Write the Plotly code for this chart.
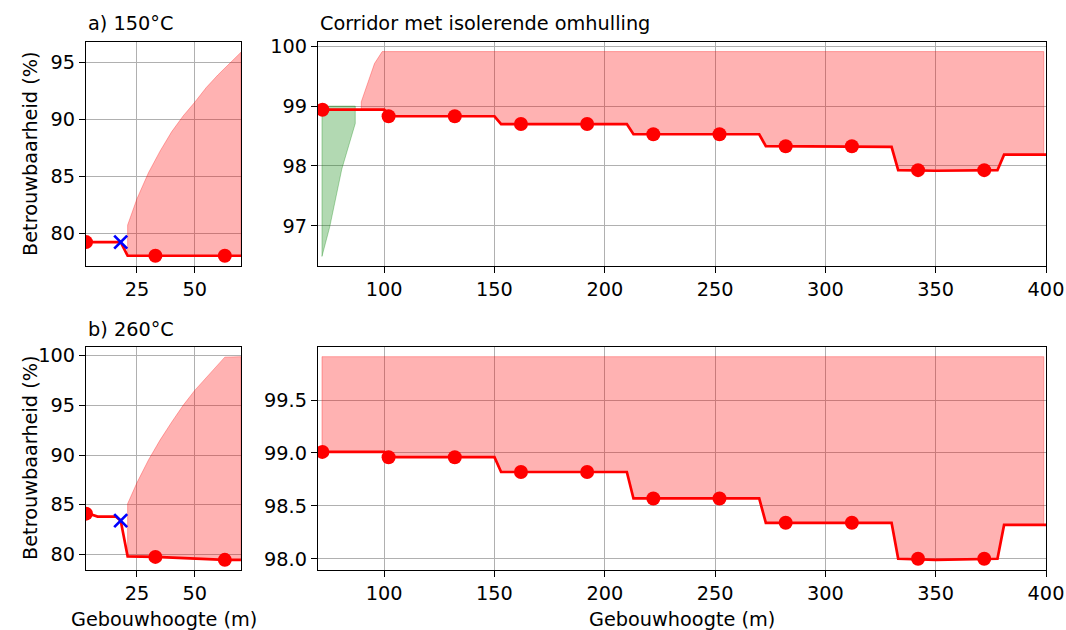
import numpy as np
import plotly.graph_objects as go

# ---------------- data ----------------
# a) 150 °C, small panel
a_line_x = [3, 18, 21, 70]
a_line_y = [79.2, 79.2, 78.0, 78.0]
a_mark_x = [3, 33, 63]
a_mark_y = [79.2, 78.0, 78.0]
a_cross_x = [18]
a_cross_y = [79.2]
a_upper_x = [21, 25, 30, 35, 40, 45, 50, 55, 60, 65, 70]
a_upper_y = [80.7, 83.0, 85.3, 87.2, 88.9, 90.3, 91.5, 92.8, 93.9, 94.9, 95.9]

# b) 260 °C, small panel
b_line_x = [3, 8, 16, 18, 21, 33, 63, 70]
b_line_y = [84.2, 83.8, 83.8, 83.4, 79.8, 79.75, 79.45, 79.45]
b_mark_x = [3, 33, 63]
b_mark_y = [84.1, 79.75, 79.45]
b_cross_x = [18]
b_cross_y = [83.4]
b_upper_x = [21, 25, 30, 35, 40, 45, 50, 55, 60, 63, 70]
b_upper_y = [85.1, 87.2, 89.5, 91.5, 93.3, 95.0, 96.5, 97.8, 99.0, 99.85, 99.9]

# Corridor met isolerende omhulling, 150 °C
c_line_x = [70, 100, 103, 150, 153, 210, 213, 270, 273, 323, 330, 333, 350, 378, 381, 400]
c_line_y = [98.94, 98.94, 98.83, 98.83, 98.70, 98.70, 98.53, 98.53, 98.33, 98.32, 98.32,
            97.93, 97.92, 97.93, 98.19, 98.19]
c_mark_x = [72, 102, 132, 162, 192, 222, 252, 282, 312, 342, 372]
c_mark_y = [98.94, 98.83, 98.83, 98.70, 98.70, 98.53, 98.53, 98.33, 98.33, 97.93, 97.93]
c_upper_x = [89.6, 95.6, 99.1, 399]
c_upper_y = [99.07, 99.71, 99.91, 99.91]
c_green_x = [71.8, 75.3, 80.8, 86.9]
c_green_lo = [96.49, 96.98, 97.95, 98.71]
c_green_hi = [99.0, 99.0, 99.0, 99.0]

# Corridor, 260 °C
d_line_x = [70, 100, 103, 150, 153, 210, 213, 270, 273, 330, 333, 350, 378, 381, 400]
d_line_y = [99.01, 99.01, 98.96, 98.96, 98.82, 98.82, 98.57, 98.57, 98.34, 98.34,
            98.00, 97.99, 98.00, 98.32, 98.32]
d_mark_x = [72, 102, 132, 162, 192, 222, 252, 282, 312, 342, 372]
d_mark_y = [99.01, 98.96, 98.96, 98.82, 98.82, 98.57, 98.57, 98.34, 98.34, 98.00, 98.00]
d_upper_x = [71.8, 399]
d_upper_y = [99.91, 99.91]

RED = "#ff0000"
FILL_RED = "rgba(255,0,0,0.3)"
FILL_GREEN = "rgba(0,128,0,0.3)"
FONT = "DejaVu Sans"
FS = 19.3


def band(ux, uy, lx, ly):
    """polygon between upper curve (ux,uy) and lower line (lx,ly)"""
    x0, x1 = ux[0], ux[-1]
    xs = sorted(set([x0, x1] + [x for x in lx if x0 < x < x1]))
    lo = np.interp(xs, lx, ly)
    px = list(ux) + xs[::-1]
    py = list(uy) + list(lo[::-1])
    return px, py


fig = go.Figure()


def add_panel(xa, ya, line_x, line_y, mark_x, mark_y, up_x, up_y, cross=None, green=None):
    px, py = band(up_x, up_y, line_x, line_y)
    fig.add_trace(go.Scatter(x=px + [px[0]], y=py + [py[0]], mode="lines", fill="toself",
                             fillcolor=FILL_RED, line=dict(color="rgba(255,0,0,0.3)", width=1),
                             xaxis=xa, yaxis=ya, showlegend=False, hoverinfo="skip"))
    if green is not None:
        gx, glo, ghi = green
        gxs = list(gx) + list(gx[::-1])
        gys = list(ghi) + list(glo[::-1])
        fig.add_trace(go.Scatter(x=gxs + [gxs[0]], y=gys + [gys[0]], mode="lines", fill="toself",
                                 fillcolor=FILL_GREEN, line=dict(color="rgba(0,128,0,0.3)", width=1),
                                 xaxis=xa, yaxis=ya, showlegend=False, hoverinfo="skip"))
    fig.add_trace(go.Scatter(x=line_x, y=line_y, mode="lines", line=dict(color=RED, width=2.7),
                             xaxis=xa, yaxis=ya, showlegend=False))
    fig.add_trace(go.Scatter(x=mark_x, y=mark_y, mode="markers",
                             marker=dict(color=RED, size=14, symbol="circle"),
                             xaxis=xa, yaxis=ya, showlegend=False))
    if cross is not None:
        fig.add_trace(go.Scatter(x=cross[0], y=cross[1], mode="markers",
                                 marker=dict(symbol="x-thin", size=13, line=dict(color="#0000ff", width=2.7)),
                                 xaxis=xa, yaxis=ya, showlegend=False))


add_panel("x", "y", a_line_x, a_line_y, a_mark_x, a_mark_y, a_upper_x, a_upper_y,
          cross=(a_cross_x, a_cross_y))
add_panel("x2", "y2", c_line_x, c_line_y, c_mark_x, c_mark_y, c_upper_x, c_upper_y,
          green=(c_green_x, c_green_lo, c_green_hi))
add_panel("x3", "y3", b_line_x, b_line_y, b_mark_x, b_mark_y, b_upper_x, b_upper_y,
          cross=(b_cross_x, b_cross_y))
add_panel("x4", "y4", d_line_x, d_line_y, d_mark_x, d_mark_y, d_upper_x, d_upper_y)

W, H = 1066, 630


def px2x(p):
    return p / W


def px2y(p):
    return 1 - p / H


common = dict(showline=True, linecolor="black", linewidth=1.4, mirror=True,
              ticks="outside", ticklen=6, tickwidth=1.3, tickcolor="black",
              showgrid=True, gridcolor="#b0b0b0", gridwidth=1.2, zeroline=False,
              automargin=False,
              tickfont=dict(family=FONT, size=FS, color="black"))

dl = [px2x(86), px2x(241)]
dr = [px2x(318), px2x(1046)]
dt = [px2y(266), px2y(42)]
db = [px2y(570), px2y(346.5)]

fig.update_layout(
    width=W, height=H, autosize=False, margin=dict(l=0, r=0, t=0, b=0, pad=0),
    paper_bgcolor="white", plot_bgcolor="white",
    font=dict(family=FONT, size=FS, color="black"),
    xaxis=dict(domain=dl, anchor="y", range=[3, 70], tickvals=[25, 50], **common),
    yaxis=dict(domain=dt, anchor="x", range=[77.1, 96.8], tickvals=[80, 85, 90, 95], **common),
    xaxis2=dict(domain=dr, anchor="y2", range=[70, 400],
                tickvals=[100, 150, 200, 250, 300, 350, 400], **common),
    yaxis2=dict(domain=dt, anchor="x2", range=[96.33, 100.07], tickvals=[97, 98, 99, 100], **common),
    xaxis3=dict(domain=dl, anchor="y3", range=[3, 70], tickvals=[25, 50], **common),
    yaxis3=dict(domain=db, anchor="x3", range=[78.43, 100.92], tickvals=[80, 85, 90, 95, 100], **common),
    xaxis4=dict(domain=dr, anchor="y4", range=[70, 400],
                tickvals=[100, 150, 200, 250, 300, 350, 400], **common),
    yaxis4=dict(domain=db, anchor="x4", range=[97.894, 100.006],
                tickvals=[98.0, 98.5, 99.0, 99.5], tickformat=".1f", **common),
)

ann = dict(xref="paper", yref="paper", showarrow=False,
           font=dict(family=FONT, size=FS, color="black"))
fig.add_annotation(text="a) 150°C", x=px2x(86), y=px2y(24), xanchor="left", yanchor="middle", **ann)
fig.add_annotation(text="Corridor met isolerende omhulling", x=px2x(318), y=px2y(24),
                   xanchor="left", yanchor="middle", **ann)
fig.add_annotation(text="b) 260°C", x=px2x(86), y=px2y(329), xanchor="left", yanchor="middle", **ann)
fig.add_annotation(text="Betrouwbaarheid (%)", x=px2x(30), y=px2y(154), textangle=-90,
                   xanchor="center", yanchor="middle", **ann)
fig.add_annotation(text="Betrouwbaarheid (%)", x=px2x(30), y=px2y(458), textangle=-90,
                   xanchor="center", yanchor="middle", **ann)
fig.add_annotation(text="Gebouwhoogte (m)", x=px2x(163.5), y=px2y(619),
                   xanchor="center", yanchor="middle", **ann)
fig.add_annotation(text="Gebouwhoogte (m)", x=px2x(682), y=px2y(619),
                   xanchor="center", yanchor="middle", **ann)

fig.write_html("out.html")
